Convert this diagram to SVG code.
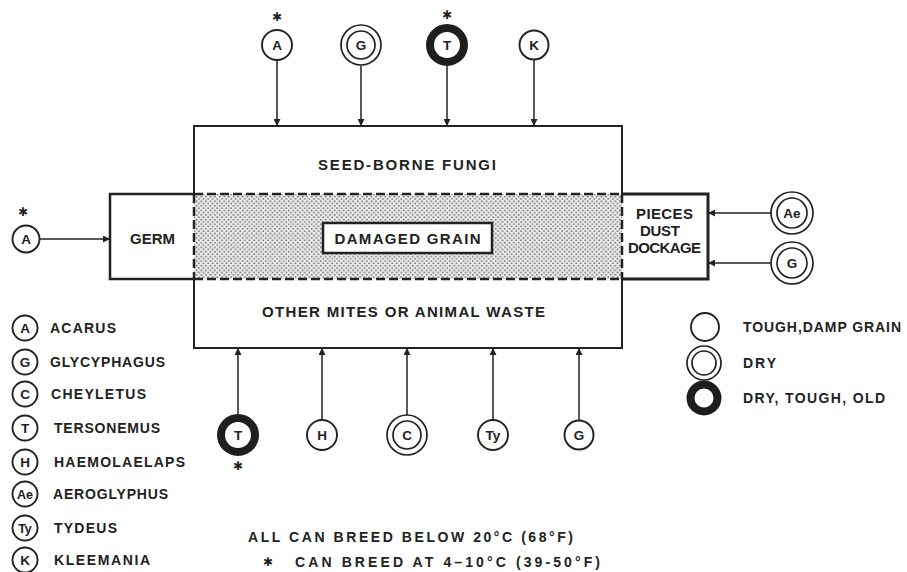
<svg xmlns="http://www.w3.org/2000/svg" width="907" height="572" viewBox="0 0 907 572">
<style>
  .t{font-family:"Liberation Sans",Arial,sans-serif;font-weight:bold;fill:#222}
  .lb{font-size:14px}
  .big{font-size:15px}
  .c{font-size:13.5px;text-anchor:middle}
  .ln{stroke:#222;fill:none}
  .ring1{fill:#fff;stroke:#222;stroke-width:1.9}
  .ring2{fill:#fff;stroke:#222;stroke-width:1.7}
  .thick{fill:#fff;stroke:#1e1e1e;stroke-width:8}
  .conn{stroke:#222;stroke-width:1.5;fill:none;marker-end:url(#ah)}
  .star{font-family:"DejaVu Sans",sans-serif;font-size:12px;font-weight:bold;text-anchor:middle;fill:#222}
</style>
<defs>
  <marker id="ah" viewBox="0 0 10 10" refX="10" refY="5" markerWidth="7" markerHeight="7" markerUnits="userSpaceOnUse" orient="auto">
    <path d="M0,0 L10,5 L0,10 z" fill="#222"/>
  </marker>
  <pattern id="stip" width="4.6" height="4.6" patternUnits="userSpaceOnUse">
    <rect width="4.6" height="4.6" fill="#eeeeee"/>
    <circle cx="1.15" cy="1.15" r="1" fill="#777"/>
    <circle cx="3.45" cy="3.45" r="1" fill="#777"/>
  </pattern>
</defs>
<rect width="907" height="572" fill="#fff"/>

<!-- main box -->
<g id="seed-borne-fungi">
  <path class="ln" stroke-width="2" d="M194,194 V126 H622 V194"/>
  <text class="t big" x="407" y="170" text-anchor="middle" textLength="178" lengthAdjust="spacing">SEED-BORNE FUNGI</text>
</g>
<g id="damaged-grain-band">
  <rect x="194" y="194" width="428" height="85" fill="url(#stip)"/>
  <path class="ln" stroke-width="2.5" stroke-dasharray="9,4" d="M194,194 H622 M194,279 H622 M194,194 V279 M622,194 V279"/>
</g>
<g id="damaged-grain">
  <rect x="323" y="223" width="169" height="30" fill="#fff" stroke="#222" stroke-width="2.5"/>
  <text class="t big" x="407.5" y="243.5" text-anchor="middle" textLength="146" lengthAdjust="spacing">DAMAGED GRAIN</text>
</g>
<g id="other-mites">
  <path class="ln" stroke-width="2" d="M194,279 V348 H622 V279"/>
  <text class="t big" x="403.5" y="317" text-anchor="middle" textLength="283" lengthAdjust="spacing">OTHER MITES OR ANIMAL WASTE</text>
</g>
<g id="germ">
  <path class="ln" stroke-width="2.5" d="M194,194 H110 V279 H194"/>
  <text class="t big" x="152.5" y="244" text-anchor="middle" textLength="45" lengthAdjust="spacing">GERM</text>
</g>
<g id="pieces-dust-dockage">
  <path class="ln" stroke-width="3" d="M622,194 H708 V279 H622"/>
  <text class="t big" x="664.5" y="219" text-anchor="middle" textLength="57" lengthAdjust="spacing">PIECES</text>
  <text class="t big" x="660" y="236" text-anchor="middle" textLength="40" lengthAdjust="spacing">DUST</text>
  <text class="t big" x="664.5" y="253" text-anchor="middle" textLength="73" lengthAdjust="spacing">DOCKAGE</text>
</g>

<!-- connectors -->
<g id="connectors">
  <line class="conn" x1="277" y1="60" x2="277" y2="126"/>
  <line class="conn" x1="361" y1="66" x2="361" y2="126"/>
  <line class="conn" x1="447" y1="66" x2="447" y2="126"/>
  <line class="conn" x1="534" y1="60" x2="534" y2="126"/>
  <line class="conn" x1="40" y1="239" x2="110" y2="239"/>
  <line class="conn" x1="771" y1="213" x2="708" y2="213"/>
  <line class="conn" x1="771" y1="263" x2="708" y2="263"/>
  <line class="conn" x1="238" y1="414" x2="238" y2="348"/>
  <line class="conn" x1="322" y1="420" x2="322" y2="348"/>
  <line class="conn" x1="407" y1="415" x2="407" y2="348"/>
  <line class="conn" x1="493" y1="420" x2="493" y2="348"/>
  <line class="conn" x1="579" y1="420" x2="579" y2="348"/>
</g>

<!-- top mites -->
<g id="top-A">
  <text class="star" x="277" y="21">✱</text>
  <circle class="ring1" cx="277" cy="45" r="15"/>
  <text class="t c" x="277" y="50">A</text>
</g>
<g id="top-G">
  <circle class="ring2" cx="361" cy="45" r="20"/>
  <circle class="ring2" cx="361" cy="45" r="14"/>
  <text class="t c" x="361" y="50">G</text>
</g>
<g id="top-T">
  <text class="star" x="447" y="19">✱</text>
  <circle class="thick" cx="447" cy="45" r="17"/>
  <text class="t c" x="447" y="50">T</text>
</g>
<g id="top-K">
  <circle class="ring1" cx="534" cy="45" r="14.5"/>
  <text class="t c" x="534" y="50">K</text>
</g>

<!-- left mite -->
<g id="left-A">
  <text class="star" x="23" y="216">✱</text>
  <circle class="ring1" cx="26" cy="239" r="13.5"/>
  <text class="t c" x="26" y="244">A</text>
</g>

<!-- right mites -->
<g id="right-Ae">
  <circle class="ring2" cx="792" cy="213" r="21"/>
  <circle class="ring2" cx="792" cy="213" r="15"/>
  <text class="t c" x="792" y="218">Ae</text>
</g>
<g id="right-G">
  <circle class="ring2" cx="792" cy="263" r="21"/>
  <circle class="ring2" cx="792" cy="263" r="15"/>
  <text class="t c" x="792" y="268">G</text>
</g>

<!-- bottom mites -->
<g id="bottom-T">
  <circle class="thick" cx="238" cy="435" r="17"/>
  <text class="t c" x="238" y="440">T</text>
  <text class="star" x="238" y="470">✱</text>
</g>
<g id="bottom-H">
  <circle class="ring1" cx="322" cy="435" r="15"/>
  <text class="t c" x="322" y="440">H</text>
</g>
<g id="bottom-C">
  <circle class="ring2" cx="407" cy="435" r="20"/>
  <circle class="ring2" cx="407" cy="435" r="14"/>
  <text class="t c" x="407" y="440">C</text>
</g>
<g id="bottom-Ty">
  <circle class="ring1" cx="493" cy="435" r="15"/>
  <text class="t c" x="493" y="440">Ty</text>
</g>
<g id="bottom-G">
  <circle class="ring1" cx="579" cy="435" r="14.5"/>
  <text class="t c" x="579" y="440">G</text>
</g>

<!-- left legend -->
<g id="legend-species">
  <circle class="ring1" cx="25" cy="328" r="12.5"/><text class="t c" x="25" y="333">A</text>
  <text class="t lb" x="50" y="333" textLength="66" lengthAdjust="spacing">ACARUS</text>
  <circle class="ring1" cx="25" cy="362" r="12.5"/><text class="t c" x="25" y="367">G</text>
  <text class="t lb" x="50" y="367" textLength="115" lengthAdjust="spacing">GLYCYPHAGUS</text>
  <circle class="ring1" cx="25" cy="394" r="12.5"/><text class="t c" x="25" y="399">C</text>
  <text class="t lb" x="51" y="399" textLength="95" lengthAdjust="spacing">CHEYLETUS</text>
  <circle class="ring1" cx="25" cy="428" r="12.5"/><text class="t c" x="25" y="433">T</text>
  <text class="t lb" x="54" y="433" textLength="106" lengthAdjust="spacing">TERSONEMUS</text>
  <circle class="ring1" cx="25" cy="462" r="12.5"/><text class="t c" x="25" y="467">H</text>
  <text class="t lb" x="54" y="467" textLength="131" lengthAdjust="spacing">HAEMOLAELAPS</text>
  <circle class="ring1" cx="25" cy="494" r="12.5"/><text class="t c" x="25" y="499" style="font-size:12.5px">Ae</text>
  <text class="t lb" x="53" y="499" textLength="115" lengthAdjust="spacing">AEROGLYPHUS</text>
  <circle class="ring1" cx="25" cy="528" r="12.5"/><text class="t c" x="25" y="533" style="font-size:12.5px">Ty</text>
  <text class="t lb" x="54" y="533" textLength="63" lengthAdjust="spacing">TYDEUS</text>
  <circle class="ring1" cx="25" cy="560" r="12.5"/><text class="t c" x="25" y="565">K</text>
  <text class="t lb" x="54" y="565" textLength="96" lengthAdjust="spacing">KLEEMANIA</text>
</g>

<!-- right legend -->
<g id="legend-condition">
  <circle class="ring1" cx="705" cy="327" r="14"/>
  <text class="t lb" x="743" y="332" textLength="158" lengthAdjust="spacing">TOUGH,DAMP GRAIN</text>
  <circle class="ring2" cx="704" cy="363" r="17"/>
  <circle class="ring2" cx="704" cy="363" r="12"/>
  <text class="t lb" x="743" y="368" textLength="33" lengthAdjust="spacing">DRY</text>
  <circle class="thick" cx="704" cy="398" r="13.5" stroke-width="7"/>
  <text class="t lb" x="743" y="403" textLength="142" lengthAdjust="spacing">DRY, TOUGH, OLD</text>
</g>

<!-- notes -->
<g id="notes">
  <text class="t lb" x="248" y="542" textLength="325" lengthAdjust="spacing">ALL  CAN BREED BELOW 20°C (68°F)</text>
  <text class="star" x="268" y="566">✱</text>
  <text class="t lb" x="295" y="567" textLength="305" lengthAdjust="spacing">CAN BREED AT 4–10°C (39-50°F)</text>
</g>
</svg>
